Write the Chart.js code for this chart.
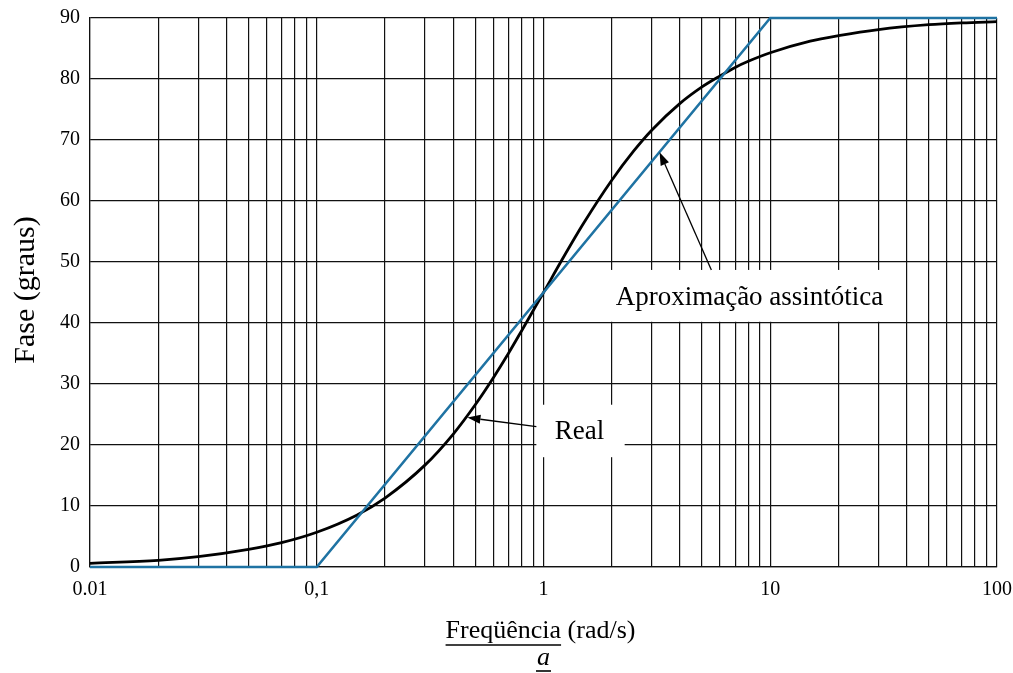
<!DOCTYPE html>
<html>
<head>
<meta charset="utf-8">
<script src="https://cdn.jsdelivr.net/npm/chart.js@4/dist/chart.umd.min.js"></script>
<style>
  html, body { margin: 0; padding: 0; background: #fff; }
  #wrap { width: 1013px; height: 673px; }
</style>
</head>
<body>
<div id="wrap"><canvas id="fase" width="1013" height="673"></canvas></div>
<script>
// frequências (rad/s) e fase real (graus)
const freqReal = [0.01, 0.02, 0.03, 0.05, 0.07, 0.1, 0.15, 0.2, 0.3, 0.4, 0.5, 0.6, 0.7, 0.8, 1, 1.2, 1.5, 2, 2.5, 3, 4, 5, 6, 7, 8, 10, 15, 20, 30, 50, 70, 100];
const faseReal = [0.6, 1.1, 1.7, 2.9, 4.0, 5.7, 8.5, 11.3, 16.7, 21.8, 26.6, 31.0, 35.0, 38.7, 45.0, 50.2, 56.3, 63.4, 68.2, 71.6, 76.0, 78.7, 80.5, 81.9, 82.9, 84.3, 86.2, 87.1, 88.1, 88.9, 89.2, 89.4];

// aproximação assintótica
const freqAssint = [0.01, 0.1, 10, 100];
const faseAssint = [0, 0, 90, 90];

// linhas de grade do eixo log e rótulos das décadas
const gradeX = [];
[0.01, 0.1, 1, 10].forEach(d => { for (let k = 1; k <= 9; k++) gradeX.push(+(d * k).toPrecision(3)); });
gradeX.push(100);
const decadas = [0.01, 0.1, 1, 10, 100];
const rotulosX = ['0.01', '0,1', '1', '10', '100'];

const fonte = "'Liberation Serif', 'DejaVu Serif', serif";
const azul = '#1f73a3';

// notas com seta: caixa branca, texto e ponta da seta (em unidades de dados)
const notas = [
  { texto: 'Real', tx: 1.44, ty: 22.1, caixa: [0.93, 2.28, 26.6, 18.0], de: [0.93, 23.0], ate: [0.462, 24.5] },
  { texto: 'Aproximação assintótica', tx: 8.1, ty: 44.1, caixa: [1.73, 33.6, 48.7, 40.2], de: [5.5, 48.7], ate: [3.25, 68.0] }
];

function seta(ctx, x0, y0, x1, y1) {
  const ang = Math.atan2(y1 - y0, x1 - x0);
  const L = 13, W = 4.5;
  ctx.beginPath();
  ctx.moveTo(x0, y0);
  ctx.lineTo(x1 - L * Math.cos(ang), y1 - L * Math.sin(ang));
  ctx.stroke();
  ctx.beginPath();
  ctx.moveTo(x1, y1);
  ctx.lineTo(x1 - L * Math.cos(ang) - W * Math.sin(ang), y1 - L * Math.sin(ang) + W * Math.cos(ang));
  ctx.lineTo(x1 - L * Math.cos(ang) + W * Math.sin(ang), y1 - L * Math.sin(ang) - W * Math.cos(ang));
  ctx.closePath();
  ctx.fill();
}

function sublinhado(ctx, x, y, largura) {
  ctx.beginPath();
  ctx.moveTo(x, y);
  ctx.lineTo(x + largura, y);
  ctx.stroke();
}

// sem folga extra dos rótulos: a área do gráfico fica só com o padding do layout
function semFolga(s) {
  s.paddingTop = 0; s.paddingBottom = 0; s.paddingLeft = 0; s.paddingRight = 0;
}

const extras = {
  id: 'extras',
  beforeDatasetsDraw(chart) {
    const { ctx, scales: { x, y } } = chart;
    ctx.save();
    ctx.fillStyle = '#fff';
    notas.forEach(n => {
      const [xa, xb, ya, yb] = n.caixa;
      const px = x.getPixelForValue(xa), py = y.getPixelForValue(ya);
      ctx.fillRect(px, py, x.getPixelForValue(xb) - px, y.getPixelForValue(yb) - py);
    });
    ctx.restore();
  },
  afterDraw(chart) {
    const { ctx, chartArea, scales: { x, y } } = chart;
    ctx.save();
    ctx.fillStyle = '#000';
    ctx.strokeStyle = '#000';
    ctx.lineWidth = 1.3;
    ctx.textBaseline = 'middle';
    ctx.textAlign = 'center';
    ctx.font = '27px ' + fonte;
    notas.forEach(n => {
      ctx.fillText(n.texto, x.getPixelForValue(n.tx), y.getPixelForValue(n.ty));
      seta(ctx, x.getPixelForValue(n.de[0]), y.getPixelForValue(n.de[1]),
                x.getPixelForValue(n.ate[0]), y.getPixelForValue(n.ate[1]));
    });

    // título do eixo x, com "Freqüência" sublinhada
    ctx.font = '26px ' + fonte;
    ctx.textAlign = 'left';
    const t1 = 'Freqüência', t2 = ' (rad/s)';
    const w1 = ctx.measureText(t1).width, w2 = ctx.measureText(t2).width;
    const cx = (chartArea.left + chartArea.right) / 2 - 3;
    const x0 = cx - (w1 + w2) / 2;
    ctx.fillText(t1, x0, 631);
    ctx.fillText(t2, x0 + w1, 631);
    ctx.lineWidth = 1.6;
    sublinhado(ctx, x0, 645, w1);

    ctx.font = 'italic 26px ' + fonte;
    const wa = ctx.measureText('a').width;
    ctx.fillText('a', cx + 3 - wa / 2, 658);
    sublinhado(ctx, cx + 2 - wa / 2, 671, wa + 2);

    // título do eixo y
    ctx.translate(26, 290);
    ctx.rotate(-Math.PI / 2);
    ctx.textAlign = 'center';
    ctx.font = '30px ' + fonte;
    ctx.fillText('Fase (graus)', 0, 0);
    ctx.restore();
  }
};

new Chart(document.getElementById('fase'), {
  type: 'line',
  data: {
    datasets: [
      {
        label: 'Aproximação assintótica',
        data: freqAssint.map((f, i) => ({ x: f, y: faseAssint[i] })),
        borderColor: azul,
        borderWidth: 2.6,
        pointRadius: 0,
        tension: 0,
        clip: 3
      },
      {
        label: 'Real',
        data: freqReal.map((f, i) => ({ x: f, y: faseReal[i] })),
        borderColor: '#000',
        borderWidth: 2.8,
        pointRadius: 0,
        cubicInterpolationMode: 'monotone',
        clip: 3
      }
    ]
  },
  plugins: [extras],
  options: {
    responsive: false,
    animation: false,
    devicePixelRatio: 1,
    layout: { padding: { top: 18, right: 16, left: 0, bottom: 0 } },
    plugins: { legend: { display: false }, tooltip: { enabled: false } },
    scales: {
      x: {
        type: 'logarithmic',
        min: 0.01,
        max: 100,
        afterBuildTicks(s) { s.ticks = gradeX.map(v => ({ value: v })); },
        afterFit(s) { s.height = 106; semFolga(s); },
        grid: { color: '#111', lineWidth: 1.2, drawTicks: false },
        border: { color: '#111', width: 1.2 },
        ticks: {
          autoSkip: false,
          maxRotation: 0,
          padding: 11,
          color: '#000',
          font: { family: fonte, size: 20 },
          callback(v) {
            const i = decadas.findIndex(d => Math.abs(d - v) / d < 1e-6);
            return i >= 0 ? rotulosX[i] : '';
          }
        }
      },
      y: {
        min: 0,
        max: 90,
        afterFit(s) { s.width = 90; semFolga(s); },
        grid: { color: '#111', lineWidth: 1.2, drawTicks: false },
        border: { color: '#111', width: 1.2 },
        ticks: {
          stepSize: 10,
          padding: 10,
          color: '#000',
          font: { family: fonte, size: 20 }
        }
      }
    }
  }
});
</script>
</body>
</html>
